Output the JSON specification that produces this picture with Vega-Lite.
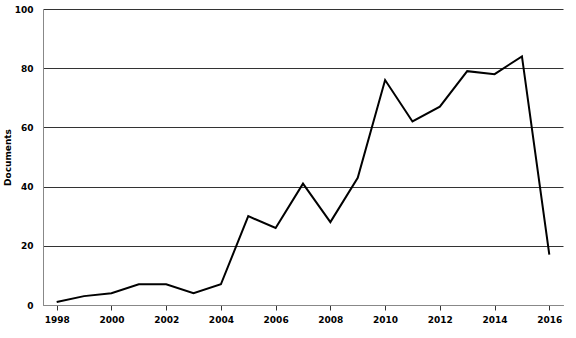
{
  "$schema": "https://vega.github.io/schema/vega-lite/v6.json",
  "width": 520,
  "height": 296,
  "autosize": {"type": "none"},
  "padding": {"left": 43, "top": 9, "right": 13, "bottom": 33},
  "background": "white",
  "config": {
    "view": {"stroke": null},
    "font": "DejaVu Sans",
    "axis": {"labelFont": "DejaVu Sans", "titleFont": "DejaVu Sans"}
  },
  "data": {
    "values": [
      {"year": 1998, "docs": 1},
      {"year": 1999, "docs": 3},
      {"year": 2000, "docs": 4},
      {"year": 2001, "docs": 7},
      {"year": 2002, "docs": 7},
      {"year": 2003, "docs": 4},
      {"year": 2004, "docs": 7},
      {"year": 2005, "docs": 30},
      {"year": 2006, "docs": 26},
      {"year": 2007, "docs": 41},
      {"year": 2008, "docs": 28},
      {"year": 2009, "docs": 43},
      {"year": 2010, "docs": 76},
      {"year": 2011, "docs": 62},
      {"year": 2012, "docs": 67},
      {"year": 2013, "docs": 79},
      {"year": 2014, "docs": 78},
      {"year": 2015, "docs": 84},
      {"year": 2016, "docs": 17}
    ]
  },
  "mark": {"type": "line", "color": "black", "strokeWidth": 2},
  "encoding": {
    "x": {
      "field": "year",
      "type": "quantitative",
      "scale": {"domain": [1997.5, 2016.5], "nice": false, "zero": false},
      "axis": {
        "values": [1998, 2000, 2002, 2004, 2006, 2008, 2010, 2012, 2014, 2016],
        "format": "d",
        "title": null,
        "grid": false,
        "domainColor": "#888888",
        "tickColor": "#333333",
        "tickSize": 5,
        "labelFontSize": 9,
        "labelFontWeight": 600,
        "labelColor": "#000000",
        "labelPadding": 5
      }
    },
    "y": {
      "field": "docs",
      "type": "quantitative",
      "scale": {"domain": [0, 100], "nice": false},
      "axis": {
        "values": [0, 20, 40, 60, 80, 100],
        "title": "Documents",
        "titleFontSize": 9,
        "titleFontWeight": "bold",
        "titleColor": "#000000",
        "titlePadding": 2,
        "grid": true,
        "gridColor": "#333333",
        "gridWidth": 1,
        "domainColor": "#888888",
        "ticks": false,
        "labelFontSize": 9,
        "labelFontWeight": 600,
        "labelColor": "#000000",
        "labelPadding": 10
      }
    }
  }
}
